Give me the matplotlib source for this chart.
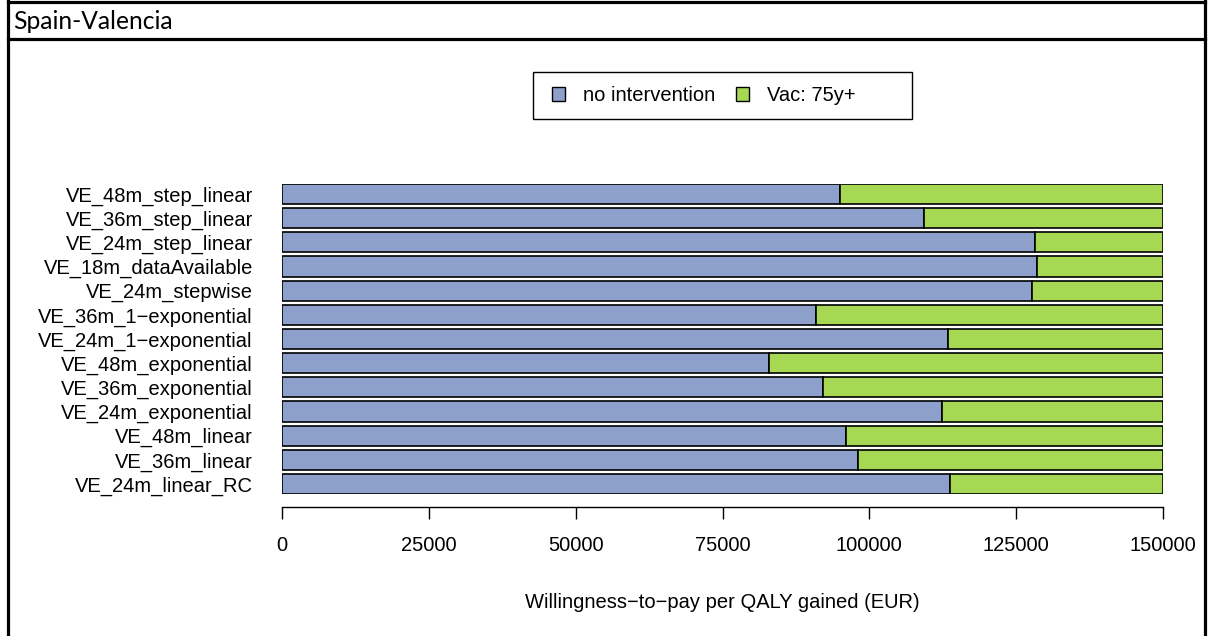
import matplotlib
matplotlib.use('Agg')
import matplotlib.pyplot as plt
from matplotlib.patches import Patch, Rectangle
from matplotlib.lines import Line2D

# data (top to bottom as shown)
scenarios = ['VE_48m_step_linear', 'VE_36m_step_linear', 'VE_24m_step_linear',
             'VE_18m_dataAvailable', 'VE_24m_stepwise', 'VE_36m_1\u2212exponential',
             'VE_24m_1\u2212exponential', 'VE_48m_exponential', 'VE_36m_exponential',
             'VE_24m_exponential', 'VE_48m_linear', 'VE_36m_linear', 'VE_24m_linear_RC']
# WTP threshold where the preferred option switches from no intervention to vaccination
switch_wtp = [95000, 109300, 128200, 128550, 127650, 90850,
              113450, 82850, 92050, 112400, 96000, 98000, 113700]
wtp_max = 150000
wtp_ticks = [0, 25000, 50000, 75000, 100000, 125000, 150000]
options = ['no intervention', 'Vac: 75y+']
colors = ['#8DA0CB', '#A6D854']

W, H = 1209, 636
plt.rcParams['font.family'] = ['Liberation Sans', 'DejaVu Sans']
fig = plt.figure(figsize=(W / 100, H / 100), dpi=100)

# frame like a table cell
def hline(y, x0=7.5, x1=1205):
    fig.add_artist(Line2D([x0 / W, x1 / W], [1 - y / H, 1 - y / H], color='black', lw=2.3))
def vline(x, y0=0, y1=H):
    fig.add_artist(Line2D([x / W, x / W], [1 - y0 / H, 1 - y1 / H], color='black', lw=2.3))
hline(2)
hline(38.7)
vline(7.5)
vline(1205)
fig.text(13 / W, 1 - 29 / H, 'Spain-Valencia', family=['Lato', 'DejaVu Sans'],
         fontsize=17.7, va='baseline', ha='left')

ax = fig.add_axes([282 / W, 1 - 494 / H, (1163 - 282) / W, (494 - 184) / H])
ypos = list(range(len(scenarios)))[::-1]
ax.barh(ypos, switch_wtp, height=20 / 24, color=colors[0], edgecolor='black', lw=1.2)
ax.barh(ypos, [wtp_max - v for v in switch_wtp], left=switch_wtp, height=20 / 24,
        color=colors[1], edgecolor='black', lw=1.2)
ax.set_xlim(0, wtp_max)
ax.set_ylim(-10 / 24, 12 + 10 / 24)
for s in ['top', 'right', 'left']:
    ax.spines[s].set_visible(False)
ax.spines['bottom'].set_position(('outward', 9.4))
ax.spines['bottom'].set_linewidth(1)
ax.spines['bottom'].set_bounds(0, wtp_max)
ax.set_xticks(wtp_ticks)
ax.set_xticklabels([str(t) for t in wtp_ticks])
ax.tick_params(axis='x', direction='out', length=8.6, width=1, pad=12.5, labelsize=14.5)
ax.set_yticks(ypos)
ax.set_yticklabels(scenarios)
ax.tick_params(axis='y', length=0, pad=21, labelsize=14.5)
ax.patch.set_visible(False)

fig.text(722.5 / W, 1 - 602 / H, 'Willingness\u2212to\u2212pay per QALY gained (EUR)',
         fontsize=14.5, ha='center', va='center')

# legend
fig.add_artist(Rectangle((533 / W, 1 - 119 / H), (912 - 533) / W, 47 / H,
                         transform=fig.transFigure, fill=False, ec='black', lw=1))
handles = [Patch(facecolor=c, edgecolor='black', lw=1) for c in colors]
fig.legend(handles, options, loc='center left', bbox_to_anchor=(552 / W, 1 - 95.5 / H),
           ncol=2, frameon=False, fontsize=14.5, borderpad=0, borderaxespad=0,
           handlelength=0.65, handleheight=0.65, handletextpad=0.9, columnspacing=1.0)

fig.savefig('out.png', dpi=100)
